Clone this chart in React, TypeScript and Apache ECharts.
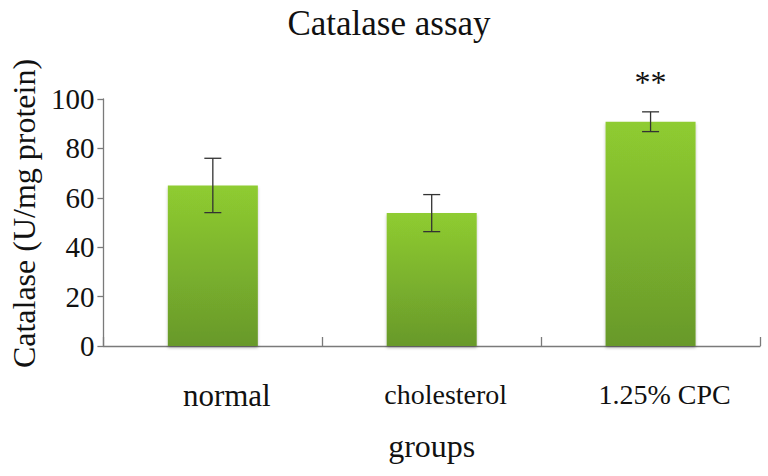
import React, { useEffect, useRef } from "react";
import * as echarts from "echarts";

const categories = ["normal", "cholesterol", "1.25% CPC"];
const means = [65, 53.8, 90.8];
const errors = [11, 7.5, 4];
const significance = ["", "", "**"];
const yTicks = [0, 20, 40, 60, 80, 100];

const FONT = "'Liberation Serif', 'Times New Roman', serif";

export default function App() {
  const ref = useRef<HTMLDivElement>(null);
  useEffect(() => {
    if (!ref.current) return;
    const chart = echarts.init(ref.current, null, { renderer: "svg" });
    const errData = categories.map((_, i) => [i, means[i], errors[i]]);
    chart.setOption({
      animation: false,
      backgroundColor: "#ffffff",
      textStyle: { fontFamily: FONT },
      title: {
        text: "Catalase assay",
        left: 384,
        textAlign: "center",
        top: 1,
        textStyle: { fontFamily: FONT, fontSize: 35, fontWeight: "normal", color: "#111" },
      },
      grid: { left: 100, right: 8, top: 99, bottom: 130 },
      xAxis: {
        type: "category",
        data: categories,
        name: "groups",
        nameLocation: "middle",
        nameGap: 84,
        nameTextStyle: { fontFamily: FONT, fontSize: 32, color: "#111" },
        axisLine: { lineStyle: { color: "#7a7a7a", width: 1.3 } },
        axisTick: { show: true, inside: true, length: 9, lineStyle: { color: "#7a7a7a", width: 1.3 } },
        axisLabel: {
          margin: 34,
          padding: [0, 0, 0, 28],
          formatter: (v: string) => (v === "normal" ? "{big|" + v + "}" : "{small|" + v + "}"),
          rich: {
            big: { fontFamily: FONT, fontSize: 31, color: "#111" },
            small: { fontFamily: FONT, fontSize: 28, color: "#111" },
          },
        },
      },
      yAxis: {
        type: "value",
        min: yTicks[0],
        max: yTicks[yTicks.length - 1],
        interval: 20,
        name: "Catalase (U/mg protein)",
        nameLocation: "middle",
        nameGap: 57,
        nameTextStyle: { fontFamily: FONT, fontSize: 32, color: "#111", padding: [0, 0, 0, 18] },
        splitLine: { show: false },
        axisLine: { show: true, lineStyle: { color: "#7a7a7a", width: 1.3 } },
        axisTick: { show: true, length: 6, lineStyle: { color: "#7a7a7a", width: 1.3 } },
        axisLabel: { fontFamily: FONT, fontSize: 29, color: "#111", margin: 9 },
      },
      series: [
        {
          type: "bar",
          data: means,
          barWidth: 90,
          itemStyle: {
            color: new echarts.graphic.LinearGradient(0, 0, 0, 1, [
              { offset: 0, color: "#8fcc30" },
              { offset: 1, color: "#68992b" },
            ]),
            shadowBlur: 3,
            shadowOffsetY: 2,
            shadowColor: "rgba(0,0,0,0.25)",
          },
        },
        {
          type: "custom",
          data: errData,
          z: 10,
          renderItem: (params: any, api: any) => {
            const x = api.value(0);
            const m = api.value(1);
            const e = api.value(2);
            const sig = significance[params.dataIndex];
            const top = api.coord([x, m + e]);
            const bot = api.coord([x, m - e]);
            const hw = 8.5;
            const st = { stroke: "#333", lineWidth: 1.3 };
            const children: any[] = [
              { type: "line", shape: { x1: top[0], y1: top[1], x2: bot[0], y2: bot[1] }, style: st },
              { type: "line", shape: { x1: top[0] - hw, y1: top[1], x2: top[0] + hw, y2: top[1] }, style: st },
              { type: "line", shape: { x1: bot[0] - hw, y1: bot[1], x2: bot[0] + hw, y2: bot[1] }, style: st },
            ];
            if (sig) {
              children.push({
                type: "text",
                x: top[0],
                y: top[1] - 14,
                style: {
                  text: sig,
                  fontFamily: FONT,
                  fontSize: 32,
                  fill: "#111",
                  align: "center",
                  verticalAlign: "bottom",
                },
              });
            }
            return { type: "group", children };
          },
        },
      ],
    });
    return () => chart.dispose();
  }, []);
  return <div ref={ref} style={{ width: 768, height: 476, position: "absolute", left: 0, top: 0 }} />;
}
